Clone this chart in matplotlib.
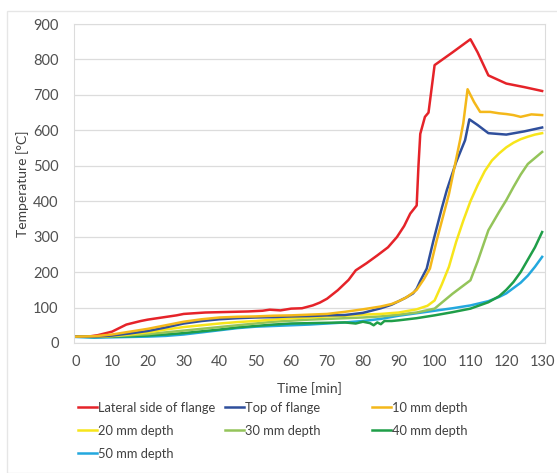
import matplotlib.pyplot as plt
from matplotlib.patches import Rectangle

plt.rcParams['font.family'] = ['Lato', 'DejaVu Sans']

# Lateral side of flange
t_red = [0, 2, 4, 6, 8, 10, 12, 14, 16, 18, 20, 22, 24, 26, 28, 30, 33, 36, 40, 44, 48, 52, 54, 57, 60, 63, 66,
         68, 70, 73, 76, 78, 81, 84, 87, 89.5, 91.5, 93.2, 95, 95.5, 96, 97.3, 98.3, 100, 105, 110, 112, 115, 120,
         125, 130]
T_red = [18, 18, 19, 22, 27, 32, 42, 52, 57, 62, 66, 69, 72, 75, 78, 82, 84, 86, 87, 88, 89, 91, 94, 92, 97, 98,
         106, 114, 125, 149, 178, 205, 225, 247, 270, 299, 330, 365, 388, 500, 590, 638, 650, 784, 820, 857, 820,
         755, 732, 722, 711]

# Top of flange
t_blue = [0, 5, 10, 15, 20, 25, 30, 35, 40, 45, 50, 55, 60, 65, 70, 75, 80, 85, 88, 90, 92, 94, 95, 96, 97.8,
          99.7, 102, 103.4, 106, 108.5, 109.7, 112, 115, 120, 125, 130]
T_blue = [18, 18, 21, 27, 34, 44, 55, 62, 67, 70, 72, 73, 75, 76, 78, 79, 85, 98, 108, 118, 128, 140, 153, 175,
          210, 290, 380, 431, 510, 572, 631, 615, 592, 588, 597, 608]

# 10 mm depth
t_orange = [0, 5, 10, 15, 20, 25, 30, 35, 40, 45, 50, 55, 60, 65, 70, 75, 80, 85, 88, 90, 92, 94, 95, 97, 98.7,
            100.6, 104, 107.1, 108, 109.2, 110, 111, 112.7, 115.5, 118, 120, 122, 124, 127, 130]
T_orange = [18, 19, 24, 32, 40, 50, 60, 67, 72, 74, 75, 77, 78, 80, 82, 88, 95, 103, 110, 118, 128, 142, 150, 180,
            210, 290, 420, 572, 620, 716, 700, 680, 652, 652, 648, 646, 643, 638, 645, 643]

# 20 mm depth
t_yellow = [0, 5, 10, 15, 20, 25, 30, 35, 40, 45, 50, 55, 60, 65, 70, 75, 80, 85, 90, 95, 98, 100, 102, 104, 106,
            108, 110, 112, 114, 116, 118, 120, 122, 124, 126, 128, 130]
T_yellow = [18, 18, 20, 24, 30, 38, 45, 50, 55, 59, 62, 66, 70, 72, 75, 77, 80, 82, 86, 95, 105, 120, 165, 215,
            285, 345, 400, 445, 485, 515, 535, 552, 565, 575, 582, 588, 592]

# 30 mm depth
t_lgreen = [0, 5, 10, 15, 20, 25, 30, 35, 40, 45, 50, 55, 60, 65, 70, 75, 80, 85, 90, 95, 100, 105, 110, 112, 115,
            118, 120, 122, 124, 126, 128, 130]
T_lgreen = [18, 18, 19, 22, 25, 30, 35, 40, 45, 50, 55, 60, 63, 66, 68, 70, 72, 75, 80, 86, 97, 139, 177, 230, 318,
            370, 403, 440, 475, 505, 522, 539]

# 40 mm depth
t_dgreen = [0, 5, 10, 15, 20, 25, 30, 35, 40, 45, 50, 55, 60, 65, 70, 75, 78, 80, 82, 83, 84, 85, 86, 88, 90, 95,
            100, 105, 110, 115, 118, 120, 122, 124, 126, 128, 130]
T_dgreen = [18, 17, 18, 19, 21, 24, 28, 33, 38, 44, 48, 52, 55, 56, 57, 58, 55, 60, 56, 50, 58, 53, 62, 62, 64, 70,
            78, 87, 97, 115, 132, 150, 172, 200, 235, 270, 313]

# 50 mm depth
t_cyan = [0, 5, 10, 15, 20, 25, 30, 35, 40, 45, 50, 55, 60, 65, 70, 75, 80, 85, 90, 95, 100, 105, 110, 115, 118,
          120, 122, 124, 126, 128, 130]
T_cyan = [17, 15, 16, 17, 18, 20, 24, 30, 36, 42, 46, 48, 50, 52, 55, 58, 62, 68, 77, 84, 91, 98, 106, 118, 130,
          140, 155, 170, 190, 215, 243]

fig = plt.figure(figsize=(5.57, 4.73), dpi=100)
fig.patches.append(Rectangle((7 / 557, 0), 1, 1 - 11 / 473, transform=fig.transFigure,
                             fill=False, edgecolor='#e6e6e6', lw=1))
ax = fig.add_axes([74 / 557, 1 - 343 / 473, 471 / 557, 319 / 473])

lw = 1.8
l_red, = ax.plot(t_red, T_red, color='#e52329', lw=lw)
l_cyan, = ax.plot(t_cyan, T_cyan, color='#23a8de', lw=lw)
l_dgreen, = ax.plot(t_dgreen, T_dgreen, color='#1f9e48', lw=lw)
l_lgreen, = ax.plot(t_lgreen, T_lgreen, color='#94c45a', lw=lw)
l_yellow, = ax.plot(t_yellow, T_yellow, color='#f7e51b', lw=lw)
l_blue, = ax.plot(t_blue, T_blue, color='#2f4f9c', lw=lw)
l_orange, = ax.plot(t_orange, T_orange, color='#f4b81a', lw=lw)

ax.set_xlim(-0.6, 130.8)
ax.set_ylim(0, 900)
ax.set_xticks(range(0, 131, 10))
ax.set_yticks(range(0, 901, 100))
ax.grid(axis='y', color='#dcdcdc', lw=0.9)
ax.set_axisbelow(True)
for s in ax.spines.values():
    s.set_color('#dcdcdc')
ax.tick_params(length=0, labelsize=10.5, labelcolor='#505050')
ax.tick_params(axis='x', pad=9)
ax.tick_params(axis='y', pad=11)
ax.set_xlabel('Time [min]', fontsize=10, color='#404040')
ax.set_ylabel('Temperature [°C]', fontsize=10, color='#404040')
ax.xaxis.set_label_coords((309 - 74) / 471, -(382 - 343) / 319)
ax.yaxis.set_label_coords(-(74 - 29) / 471, 0.5)

cols = [([l_red, l_yellow, l_cyan], ['Lateral side of flange', '20 mm depth', '50 mm depth'], 78),
        ([l_blue, l_lgreen], ['Top of flange', '30 mm depth'], 225),
        ([l_orange, l_dgreen], ['10 mm depth', '40 mm depth'], 372)]
for h, lab, x in cols:
    fig.legend(h, lab, loc='upper left', bbox_to_anchor=(x / 557, 1 - 402 / 473), frameon=False,
               fontsize=9.3, handlelength=1.45, handletextpad=0.1, labelspacing=0.85,
               borderpad=0, borderaxespad=0, labelcolor='#404040')

fig.savefig('out.png', dpi=100)
